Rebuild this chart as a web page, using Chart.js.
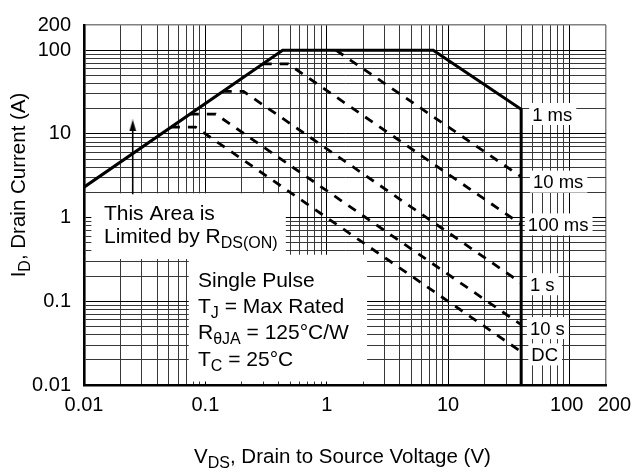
<!DOCTYPE html>
<html>
<head>
<meta charset="utf-8">
<script src="https://cdn.jsdelivr.net/npm/chart.js@4.4.1/dist/chart.umd.min.js"></script>
<style>
  html, body { margin: 0; padding: 0; background: #fff; }
</style>
</head>
<body>
<canvas id="soaChart" width="634" height="472"></canvas>
<script>
// Safe operating area (log-log)
const xTickLabels = [0.01, 0.1, 1, 10, 100, 200];
const yTickLabels = [0.01, 0.1, 1, 10, 100, 200];

// 1 ms curve is the outer limit: Rds(on) slope, 100 A, power, 40 V
const vds1ms = [0.01, 0.433, 7.54, 40, 40];
const id1ms = [2.31, 100, 100, 19.7, 0.01];
const vds10ms = [1.19, 40];
const id10ms = [100, 3.08];
const vds100ms = [0.297, 0.48, 40];
const id100ms = [68.7, 68.7, 0.83];
const vds1s = [0.139, 0.206, 40];
const id1s = [32.2, 32.2, 0.166];
const vds10s = [0.0745, 0.122, 40];
const id10s = [17.2, 17.2, 0.0525];
const vdsDC = [0.052, 0.083, 38];
const idDC = [12.06, 12.06, 0.0263];

// curve names at the right of the 40 V line
const curveLabels = ['1 ms', '10 ms', '100 ms', '1 s', '10 s', 'DC'];
const curveLabelV = [49.3, 50, 45.4, 47.2, 47.2, 48.5];
const curveLabelI = [17.3, 2.69, 0.829, 0.160, 0.0479, 0.0232];

// arrow pointing up at the Rds(on) line
const arrowV = [0.0252, 0.0252];
const arrowI = [1.9, 12.6];

const MAIN_FONT = '21px "Liberation Sans", Arial, Helvetica, sans-serif';
const SUB_FONT = '16px "Liberation Sans", Arial, Helvetica, sans-serif';
const TITLE_FONT = '20.5px "Liberation Sans", Arial, Helvetica, sans-serif';
const LABEL_FONT = '18.5px "Liberation Sans", Arial, Helvetica, sans-serif';

// white panels that hide the grid behind the notes (data units)
const noteBoxes = [
  { v: [0.0115, 0.46], i: [0.32, 1.95] },
  { v: [0.073, 2.15], i: [0.011, 0.36] }
];
const notes = [
  { v: 0.0146, i: 0.948, step: 23, lines: [
    [['This Area is']],
    [['Limited by R'], ['DS(ON)', 1]]
  ] },
  { v: 0.0869, i: 0.149, step: 26.3, lines: [
    [['Single Pulse']],
    [['T'], ['J', 1], [' = Max Rated']],
    [['R'], ['\u03B8JA', 1], [' = 125\u00B0C/W']],
    [['T'], ['C', 1], [' = 25\u00B0C']]
  ] }
];

function pts(xs, ys) {
  return xs.map((v, k) => ({ x: v, y: ys[k] }));
}

function gridTicks(min, max) {
  const out = [];
  for (let e = -2; e <= 2; e++) {
    for (let k = 1; k <= 9; k++) {
      const v = Number((k * Math.pow(10, e)).toPrecision(6));
      if (v >= min && v <= max) out.push({ value: v });
    }
  }
  return out;
}

function isDecade(v) {
  return Math.abs(Math.log10(v) - Math.round(Math.log10(v))) < 1e-6;
}
function gridColor(c) {
  const v = c.tick ? c.tick.value : 1;
  if (v === 200) return '#808080';
  return isDecade(v) ? '#000' : '#383838';
}
function gridWidth(c) {
  const v = c.tick ? c.tick.value : 1;
  return v === 200 ? 1.5 : 1;
}

// the printed 100 / 200 labels sit a bit apart from their lines
function xLabel(v) {
  if (xTickLabels.indexOf(v) < 0) return '';
  if (v === 200) return '   200';
  if (v === 100) return '100 ';
  return String(v);
}

function drawRich(ctx, parts, x, y, center) {
  const widths = parts.map(p => {
    ctx.font = p[1] ? SUB_FONT : (ctx._mainFont || MAIN_FONT);
    return ctx.measureText(p[0]).width;
  });
  let cx = center ? x - widths.reduce((a, b) => a + b, 0) / 2 : x;
  parts.forEach((p, k) => {
    ctx.font = p[1] ? SUB_FONT : (ctx._mainFont || MAIN_FONT);
    ctx.fillText(p[0], cx, y + (p[1] ? 5 : 0));
    cx += widths[k];
  });
}

// arrow head used as point style
const arrowHead = document.createElement('canvas');
arrowHead.width = 8;
arrowHead.height = 12;
(function () {
  const c = arrowHead.getContext('2d');
  c.fillStyle = '#000';
  c.beginPath();
  c.moveTo(4, 0);
  c.lineTo(0.5, 12);
  c.lineTo(7.5, 12);
  c.closePath();
  c.fill();
})();

const soaDecor = {
  id: 'soaDecor',
  beforeDatasetsDraw(chart) {
    const { ctx, scales: { x, y } } = chart;
    ctx.save();
    ctx.fillStyle = '#fff';
    noteBoxes.forEach(b => {
      const x0 = x.getPixelForValue(b.v[0]), x1 = x.getPixelForValue(b.v[1]);
      const y0 = y.getPixelForValue(b.i[1]), y1 = y.getPixelForValue(b.i[0]);
      ctx.fillRect(x0, y0, x1 - x0, y1 - y0);
    });

    ctx.textAlign = 'left';
    ctx.textBaseline = 'alphabetic';
    ctx.font = LABEL_FONT;
    curveLabels.forEach((t, k) => {
      const px = x.getPixelForValue(curveLabelV[k]);
      const py = y.getPixelForValue(curveLabelI[k]);
      const w = ctx.measureText(t).width;
      ctx.fillStyle = '#fff';
      ctx.fillRect(px - 3, py - 11, w + 7, 22);
      ctx.fillStyle = '#000';
      ctx.fillText(t, px, py + 6.6);
    });

    ctx.fillStyle = '#000';
    notes.forEach(n => {
      const px = x.getPixelForValue(n.v);
      const py = y.getPixelForValue(n.i);
      n.lines.forEach((ln, k) => drawRich(ctx, ln, px, py + k * n.step, false));
    });
    ctx.restore();
  },
  afterDraw(chart) {
    const { ctx } = chart;
    ctx.save();
    ctx.fillStyle = '#000';
    ctx.textAlign = 'left';
    ctx.textBaseline = 'alphabetic';
    ctx._mainFont = TITLE_FONT;
    drawRich(ctx, [['V'], ['DS', 1], [', Drain to Source Voltage (V)']], 342.5, 463, true);
    ctx.translate(25, 185);
    ctx.rotate(-Math.PI / 2);
    drawRich(ctx, [['I'], ['D', 1], [', Drain Current (A)']], 0, 0, true);
    ctx._mainFont = null;
    ctx.restore();
  }
};

const solid = { borderColor: '#000', borderWidth: 3, pointRadius: 0, showLine: true, fill: false };
const dashed = Object.assign({}, solid, { borderWidth: 2.8, borderDash: [9, 8] });

new Chart(document.getElementById('soaChart').getContext('2d'), {
  type: 'scatter',
  data: {
    datasets: [
      Object.assign({ label: '1 ms', data: pts(vds1ms, id1ms) }, solid),
      Object.assign({ label: '10 ms', data: pts(vds10ms, id10ms) }, dashed),
      Object.assign({ label: '100 ms', data: pts(vds100ms, id100ms) }, dashed),
      Object.assign({ label: '1 s', data: pts(vds1s, id1s) }, dashed),
      Object.assign({ label: '10 s', data: pts(vds10s, id10s) }, dashed),
      Object.assign({ label: 'DC', data: pts(vdsDC, idDC) }, dashed),
      {
        label: 'arrow', data: pts(arrowV, arrowI), showLine: true,
        borderColor: '#000', borderWidth: 1.6,
        pointRadius: [0, 6], pointStyle: arrowHead
      }
    ]
  },
  options: {
    responsive: false,
    animation: false,
    events: [],
    layout: { padding: { top: 15, right: 28, left: 0, bottom: 0 } },
    plugins: { legend: { display: false }, tooltip: { enabled: false } },
    scales: {
      x: {
        type: 'logarithmic', min: 0.01, max: 200,
        afterBuildTicks: s => { s.ticks = gridTicks(0.01, 200); },
        afterFit: s => { s.height = 87; s.paddingLeft = 0; s.paddingRight = 0; },
        grid: { color: gridColor, lineWidth: gridWidth, drawTicks: false },
        border: { color: '#000', width: 2.6 },
        ticks: {
          autoSkip: false, maxRotation: 0, minRotation: 0, padding: 8, color: '#000',
          font: { family: '"Liberation Sans", Arial, Helvetica, sans-serif', size: 20 },
          callback: v => xLabel(v)
        }
      },
      y: {
        type: 'logarithmic', min: 0.01, max: 200,
        afterBuildTicks: s => { s.ticks = gridTicks(0.01, 200); },
        afterFit: s => { s.width = 84; },
        grid: { color: gridColor, lineWidth: gridWidth, drawTicks: false },
        border: { color: '#000', width: 2.6 },
        ticks: {
          autoSkip: false, padding: 13, color: '#000',
          font: { family: '"Liberation Sans", Arial, Helvetica, sans-serif', size: 20 },
          callback: v => (yTickLabels.indexOf(v) >= 0 ? String(v) : '')
        }
      }
    }
  },
  plugins: [soaDecor]
});
</script>
</body>
</html>
